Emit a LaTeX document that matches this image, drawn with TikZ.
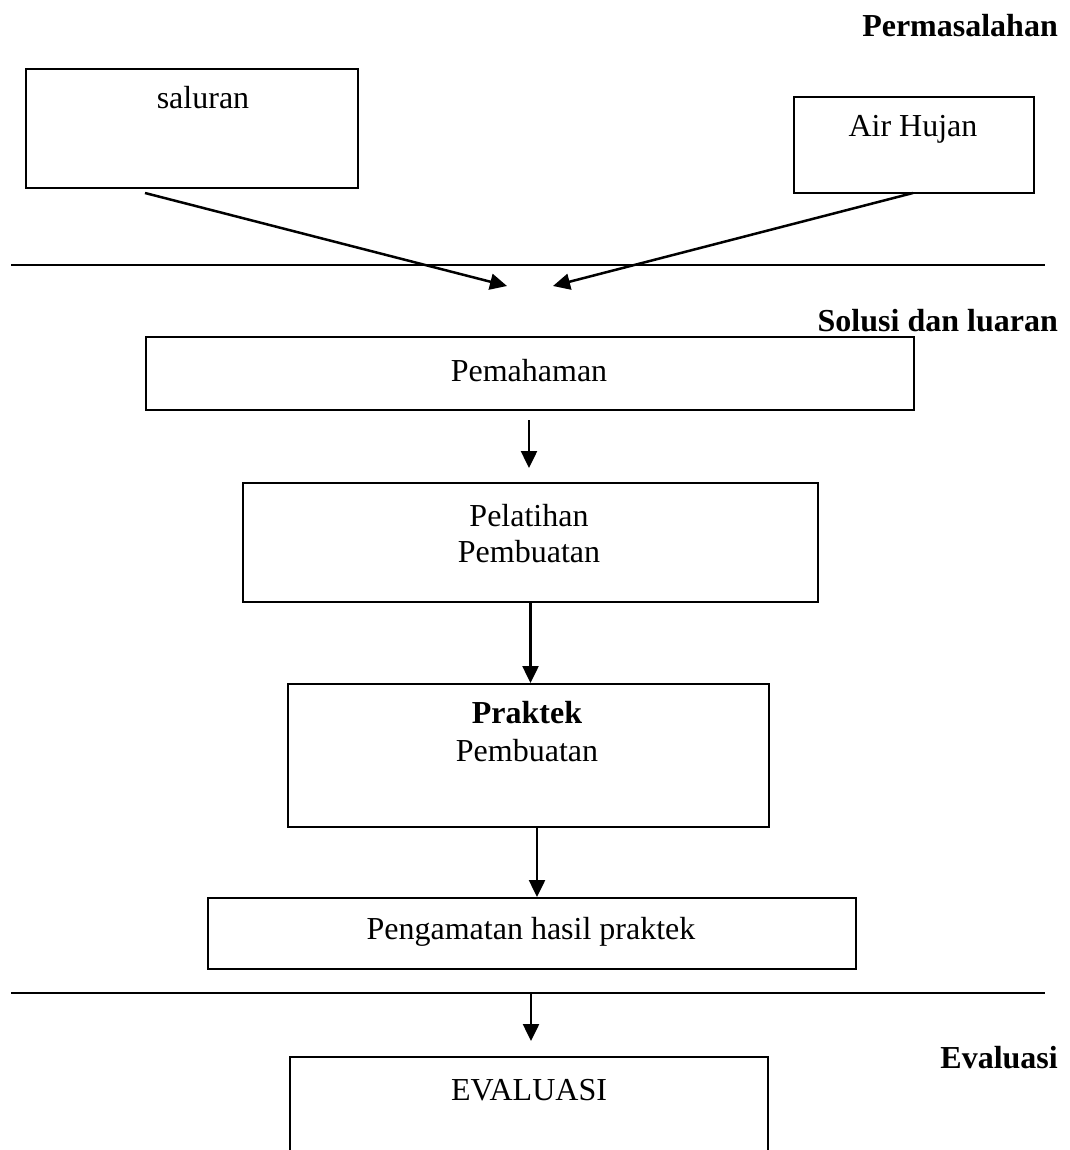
\documentclass[tikz,border=0pt]{standalone}
\usepackage{fontspec}
\setmainfont{Liberation Serif}
\usetikzlibrary{arrows.meta}
\begin{document}
\begin{tikzpicture}[x=1pt,y=-1pt,
  box/.style={draw, line width=2pt, anchor=north west, inner sep=0pt},
  arr/.style={line width=2.5pt, -{Triangle[length=17pt,width=16pt]}},
  sep/.style={line width=2pt},
  txt/.style={font=\fontsize{32}{38}\selectfont, inner sep=0pt, anchor=base},
  head/.style={font=\fontsize{32}{38}\selectfont\bfseries, inner sep=0pt, anchor=base east}]
\useasboundingbox (0,0) rectangle (1069,1150);

% headings
\node[head] (hperm) at (1058,37) {Permasalahan};
\node[head] (hsol) at (1058,331) {Solusi dan luaran};
\node[head] (heval) at (1058,1068) {Evaluasi};

% separator lines
\coordinate (l1a) at (11,265); \coordinate (l1b) at (1045,265);
\coordinate (l2a) at (11,993); \coordinate (l2b) at (1045,993);
\draw[sep] (l1a) -- (l1b);
\draw[sep] (l2a) -- (l2b);

% boxes
\node[box, minimum width=332pt, minimum height=119pt] (saluran) at (25,68) {};
\node[txt] (tsaluran) at (203,109) {saluran};
\node[box, minimum width=240pt, minimum height=96pt] (air) at (793,96) {};
\node[txt] (tair) at (913,137) {Air Hujan};

\node[box, minimum width=768pt, minimum height=73pt] (pem) at (145,336) {};
\node[txt] (tpem) at (529,381) {Pemahaman};

\node[box, minimum width=575pt, minimum height=119pt] (pel) at (242,482) {};
\node[txt] (tpel1) at (529,526) {Pelatihan};
\node[txt] (tpel2) at (529,562) {Pembuatan};

\node[box, minimum width=481pt, minimum height=143pt] (prak) at (287,683) {};
\node[txt, font=\fontsize{32}{38}\selectfont\bfseries] (tprak1) at (527,723) {Praktek};
\node[txt] (tprak2) at (527,761) {Pembuatan};

\node[box, minimum width=648pt, minimum height=71pt] (peng) at (207,897) {};
\node[txt] (tpeng) at (531,939) {Pengamatan hasil praktek};

% EVALUASI box (cut at bottom edge)
\coordinate (ev1) at (290,1150); \coordinate (ev2) at (290,1057);
\coordinate (ev3) at (768,1057); \coordinate (ev4) at (768,1150);
\draw[line width=2pt] (ev1) -- (ev2) -- (ev3) -- (ev4);
\node[txt] (teval) at (529,1100) {EVALUASI};

% connectors
\coordinate (a1s) at (145,193); \coordinate (a1e) at (507,286);
\coordinate (a2s) at (913,193); \coordinate (a2e) at (553,286);
\draw[arr] (a1s) -- (a1e);
\draw[arr] (a2s) -- (a2e);

\coordinate (b1s) at (529,420); \coordinate (b1e) at (529,468);
\draw[arr] (b1s) -- (b1e);
\draw[arr] (pel.south) -- (prak.north -| pel.south);
\coordinate (b3s) at (537,826); \coordinate (b3e) at (537,897);
\draw[arr] (b3s) -- (b3e);
\coordinate (b4s) at (531,993); \coordinate (b4e) at (531,1041);
\draw[arr] (b4s) -- (b4e);
\end{tikzpicture}
\end{document}
